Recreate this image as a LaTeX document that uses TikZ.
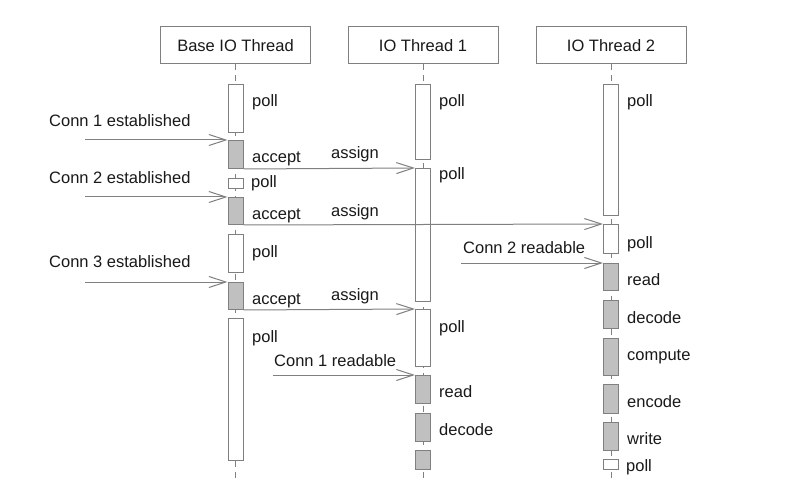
\documentclass[tikz,border=0pt]{standalone}
\usepackage{fontspec}
\setmainfont{Liberation Sans}
\usetikzlibrary{arrows.meta}
\definecolor{edge}{RGB}{128,128,128}
\definecolor{busyfill}{RGB}{192,192,192}
\definecolor{ink}{RGB}{25,25,25}
\tikzset{
  head/.style={draw=edge,line width=1pt,minimum width=150,minimum height=37,inner sep=0pt,text=ink},
  idle/.style={draw=edge,fill=white,line width=1pt,minimum width=15,inner sep=0pt,anchor=north},
  busy/.style={idle,fill=busyfill},
  life/.style={draw=edge,line width=1pt,dash pattern=on 6pt off 5pt},
  msg/.style={draw=edge,line width=1pt,-{Straight Barb[length=17pt,width=11pt]}},
  lbl/.style={inner sep=0pt,anchor=base west,text=ink}
}
\begin{document}
\begin{tikzpicture}[x=1pt,y=-1pt,font=\fontsize{16.5}{19}\selectfont]
\useasboundingbox[fill=white](0,0) rectangle (793,500);

% headers
\node[head] (hb) at (235.5,45.5) {Base IO Thread};
\node[head] (h1) at (423,45.5) {IO Thread 1};
\node[head] (h2) at (611,45.5) {IO Thread 2};

\coordinate (eb) at (235.5,478);
\coordinate (e1) at (423,478);
\coordinate (e2) at (611,478);
\draw[life](hb.south)--(eb);
\draw[life](h1.south)--(e1);
\draw[life](h2.south)--(e2);

% base io thread
\node[idle,minimum height=48] (bp1) at (235.5,84) {};
\node[busy,minimum height=28] (ba1) at (235.5,140) {};
\node[idle,minimum height=10] (bp2) at (235.5,178) {};
\node[busy,minimum height=27] (ba2) at (235.5,197) {};
\node[idle,minimum height=38] (bp3) at (235.5,234) {};
\node[busy,minimum height=27] (ba3) at (235.5,282) {};
\node[idle,minimum height=142] (bp4) at (235.5,318) {};

% io thread 1
\node[idle,minimum height=75] (ap1) at (423,84) {};
\node[idle,minimum height=133] (ap2) at (423,168) {};
\node[idle,minimum height=57] (ap3) at (423,309) {};
\node[busy,minimum height=28] (ar) at (423,375) {};
\node[busy,minimum height=28] (ad) at (423,413) {};
\node[busy,minimum height=19] (ax) at (423,450) {};

% io thread 2
\node[idle,minimum height=131] (cp1) at (611,84) {};
\node[idle,minimum height=29] (cp2) at (611,224) {};
\node[busy,minimum height=27] (cr) at (611,263) {};
\node[busy,minimum height=28] (cd) at (611,300) {};
\node[busy,minimum height=37] (cc) at (611,338) {};
\node[busy,minimum height=29] (ce) at (611,384) {};
\node[busy,minimum height=28] (cw) at (611,422) {};
\node[idle,minimum height=10] (cp3) at (611,459) {};

% labels
\node[lbl] (lbp1) at (252,107) {poll};
\node[lbl] (lba1) at (252,163) {accept};
\node[lbl] (lbp2) at (251,187) {poll};
\node[lbl] (lba2) at (252,219) {accept};
\node[lbl] (lbp3) at (252,257) {poll};
\node[lbl] (lba3) at (252,304) {accept};
\node[lbl] (lbp4) at (252,342) {poll};
\node[lbl] (lap1) at (439,107) {poll};
\node[lbl] (lap2) at (439,180) {poll};
\node[lbl] (lap3) at (439,332) {poll};
\node[lbl] (lar) at (439,397) {read};
\node[lbl] (lad) at (439,435) {decode};
\node[lbl] (lcp1) at (627,107) {poll};
\node[lbl] (lcp2) at (627,248) {poll};
\node[lbl] (lcr) at (627,285) {read};
\node[lbl] (lcd) at (627,323) {decode};
\node[lbl] (lcc) at (627,360) {compute};
\node[lbl] (lce) at (627,407) {encode};
\node[lbl] (lcw) at (627,444) {write};
\node[lbl] (lcp3) at (626,471) {poll};

% incoming events
\coordinate (s1) at (85,140);
\coordinate (s2) at (85,197);
\coordinate (s3) at (85,282);
\coordinate (r1) at (273,375);
\coordinate (r2) at (461,263);
\node[lbl] (t1) at (49,127) {Conn 1 established};
\node[lbl] (t2) at (49,183) {Conn 2 established};
\node[lbl] (t3) at (49,267) {Conn 3 established};
\node[lbl] (t4) at (274,366) {Conn 1 readable};
\node[lbl] (t5) at (463,253) {Conn 2 readable};
\draw[msg](s1)--(ba1.north west);
\draw[msg](s2)--(ba2.north west);
\draw[msg](s3)--(ba3.north west);
\draw[msg](r1)--(ar.north west);
\draw[msg](r2)--(cr.north west);

% assign
\draw[msg](ba1.south east)--(ap2.north west);
\draw[msg](ba2.south east)--(cp2.north west);
\draw[msg](ba3.south east)--(ap3.north west);
\node[lbl,anchor=base] (g1) at (355,159) {assign};
\node[lbl,anchor=base] (g2) at (355,216) {assign};
\node[lbl,anchor=base] (g3) at (355,300) {assign};
\end{tikzpicture}
\end{document}
